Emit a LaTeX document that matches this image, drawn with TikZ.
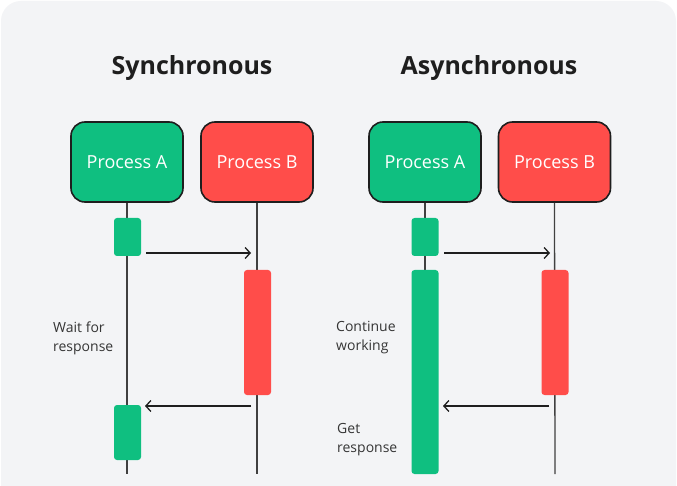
\documentclass[tikz,border=0pt]{standalone}
\usepackage{fontspec}
\setmainfont{Open Sans}
\IfFontExistsTF{Open Sans SemiBold}
  {\newfontfamily\headfont{Open Sans SemiBold}}
  {\newfontfamily\headfont{Open Sans}[UprightFont=*-Bold]}
\usetikzlibrary{arrows.meta}
\definecolor{panelbg}{HTML}{F3F4F6}
\definecolor{procgreen}{HTML}{0FBF80}
\definecolor{procred}{HTML}{FF4D4A}
\definecolor{ink}{HTML}{1E1E1E}
\tikzset{
  process/.style={draw=ink, line width=1.6pt, rounded corners=14pt,
    minimum width=112pt, minimum height=80pt, inner sep=0pt,
    text=white, font=\fontsize{18}{20}\selectfont},
  procA/.style={process, fill=procgreen},
  procB/.style={process, fill=procred},
  activity/.style={rounded corners=3pt, minimum width=27pt, inner sep=0pt},
  actA/.style={activity, fill=procgreen},
  actB/.style={activity, fill=procred},
  lifeline/.style={draw=ink!85, line width=1.3pt},
  msg/.style={draw=ink, line width=1.3pt, -{Straight Barb[length=5pt,width=11pt]}},
  heading/.style={text=ink, font=\fontsize{25}{28}\selectfont\headfont},
  note/.style={text=ink!90, anchor=west, align=left, inner sep=0pt,
    font=\fontsize{14}{19}\selectfont},
}
\begin{document}
\begin{tikzpicture}[x=1pt,y=-1pt]
\useasboundingbox (0,0) rectangle (677,486);
\fill[white] (0,0) rectangle (677,486);
\fill[panelbg, rounded corners=20pt] (1,1) rectangle (676,530);

% headings
\node[heading] (tsync) at (192,68) {Synchronous};
\node[heading] (tasync) at (489,68) {Asynchronous};

% ---- synchronous ----
\node[procA] (sA) at (127,162) {Process A};
\node[procB] (sB) at (257,162) {Process B};
\coordinate (sAend) at (127,474);
\coordinate (sBend) at (257,474);
\draw[lifeline] (sA.south) -- (sAend);
\draw[lifeline] (sB.south) -- (sBend);
\node[actA, minimum height=38pt] (sA1) at (127.5,237) {};
\node[actB, minimum height=125pt] (sB1) at (257.5,332.5) {};
\node[actA, minimum height=55pt] (sA2) at (127.5,432.5) {};
\coordinate (s1a) at (146,253);
\coordinate (s1b) at (251,253);
\coordinate (s2a) at (251,406);
\coordinate (s2b) at (145,406);
\draw[msg] (s1a) -- (s1b);
\draw[msg] (s2a) -- (s2b);
\node[note] (wait) at (53,338) {Wait for\\response};

% ---- asynchronous ----
\node[procA] (aA) at (425,162) {Process A};
\node[procB] (aB) at (554.5,162) {Process B};
\coordinate (aAend) at (425,474);
\coordinate (aBend) at (555,474);
\draw[lifeline] (aA.south) -- (aAend);
\draw[lifeline] (aB.south) -- (aBend);
\node[actA, minimum height=38pt] (aA1) at (425,237) {};
\node[actA, minimum height=204pt] (aA2) at (425,372) {};
\node[actB, minimum height=125pt] (aB1) at (555,332.5) {};
\coordinate (a1a) at (444,253);
\coordinate (a1b) at (550,253);
\coordinate (a2a) at (549,406);
\coordinate (a2b) at (443,406);
\draw[msg] (a1a) -- (a1b);
\draw[msg] (a2a) -- (a2b);
\node[note] (cont) at (336,338) {Continue\\working};
\node[note] (get) at (337,439.5) {Get\\response};
\end{tikzpicture}
\end{document}
